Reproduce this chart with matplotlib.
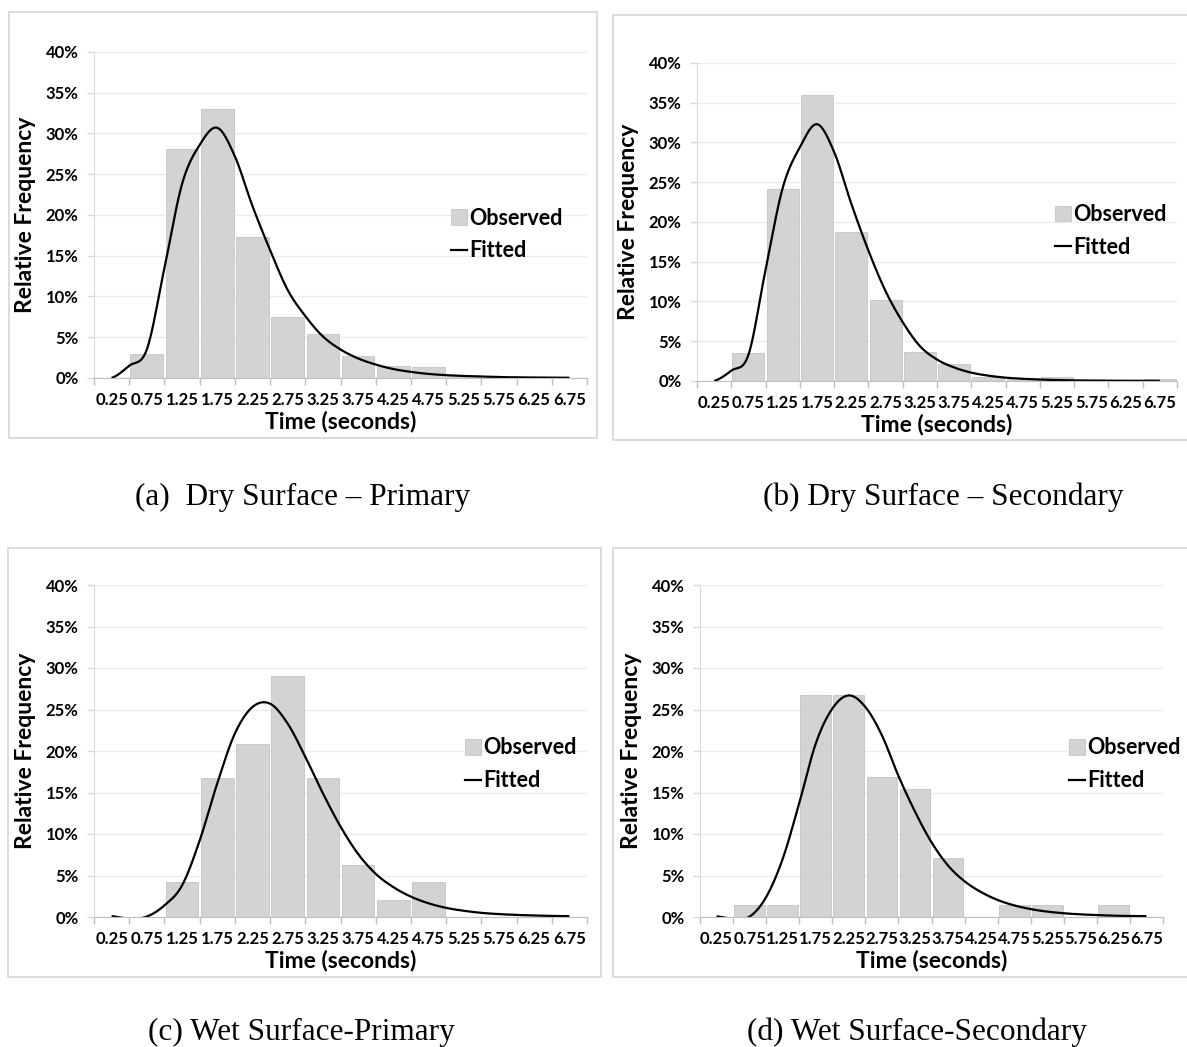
import matplotlib.pyplot as plt
import numpy as np
from matplotlib.lines import Line2D
from matplotlib.patches import Patch, Rectangle
from matplotlib.ticker import FixedLocator, PercentFormatter

plt.rcParams['font.family'] = ['Lato', 'DejaVu Sans']

# bin labels (seconds)
categories = ['0.25', '0.75', '1.25', '1.75', '2.25', '2.75', '3.25',
              '3.75', '4.25', '4.75', '5.25', '5.75', '6.25', '6.75']

# time values at which the fitted curve was read
fit_times = [0.25, 0.5, 0.75, 1.0, 1.25, 1.5, 1.75, 2.0, 2.25, 2.5, 2.75,
             3.0, 3.25, 3.5, 3.75, 4.0, 4.25, 4.5, 4.75, 5.0, 5.25, 5.5,
             5.75, 6.0, 6.25, 6.5, 6.75]

# observed relative frequency (%)
dry_primary_obs = [0, 3.0, 28.1, 33.0, 17.3, 7.5, 5.4, 2.7, 1.5, 1.3, 0.4, 0.1, 0, 0]
dry_secondary_obs = [0, 3.5, 24.1, 36.0, 18.7, 10.2, 3.7, 2.2, 0.5, 0.4, 0.5, 0, 0.05, 0.25]
wet_primary_obs = [0, 0, 4.2, 16.7, 20.8, 29.0, 16.7, 6.3, 2.1, 4.2, 0, 0, 0, 0]
wet_secondary_obs = [0, 1.5, 1.5, 26.8, 26.8, 16.9, 15.4, 7.1, 0, 1.5, 1.5, 0, 1.5, 0]

# fitted curve (%)
dry_primary_fit = [0, 1.5, 3.5, 13.5, 23.8, 28.6, 30.7, 27.2, 21.1, 15.7, 10.8,
                   7.6, 5.1, 3.5, 2.4, 1.65, 1.1, 0.75, 0.5, 0.35, 0.25, 0.18,
                   0.12, 0.08, 0.06, 0.04, 0.03]
dry_secondary_fit = [0, 1.3, 3.3, 14.0, 24.3, 29.4, 32.3, 28.8, 22.3, 16.4, 11.3,
                     7.4, 4.4, 2.7, 1.7, 1.05, 0.67, 0.42, 0.28, 0.18, 0.12, 0.08,
                     0.06, 0.04, 0.03, 0.02, 0.02]
wet_primary_fit = [0.1, -0.2, 0.05, 1.4, 3.8, 9.2, 16.1, 22.1, 25.3, 25.7, 23.3,
                   19.3, 14.9, 10.9, 7.6, 5.2, 3.6, 2.45, 1.65, 1.1, 0.75, 0.5,
                   0.35, 0.25, 0.18, 0.13, 0.1]
wet_secondary_fit = [0.08, -0.2, 0.05, 2.4, 7.0, 13.7, 20.9, 25.1, 26.7, 25.3, 21.9,
                     17.0, 12.7, 9.0, 6.2, 4.3, 3.0, 2.05, 1.4, 0.95, 0.65, 0.45,
                     0.32, 0.23, 0.16, 0.12, 0.1]

captions = ['(a)  Dry Surface \u2013 Primary', '(b) Dry Surface \u2013 Secondary',
            '(c) Wet Surface-Primary', '(d) Wet Surface-Secondary']

W, H = 1187, 1047


def smooth(xs, ys, n=16):
    # Catmull-Rom smoothing, like a spreadsheet "smoothed line"
    xs = np.asarray(xs, float)
    ys = np.asarray(ys, float)
    px = np.concatenate([[2 * xs[0] - xs[1]], xs, [2 * xs[-1] - xs[-2]]])
    py = np.concatenate([[ys[0]], ys, [ys[-1]]])
    out_x, out_y = [], []
    t = np.linspace(0, 1, n, endpoint=False)
    for i in range(1, len(px) - 2):
        for arr, out in ((px, out_x), (py, out_y)):
            p0, p1, p2, p3 = arr[i - 1], arr[i], arr[i + 1], arr[i + 2]
            out.extend(0.5 * ((2 * p1) + (-p0 + p2) * t
                              + (2 * p0 - 5 * p1 + 4 * p2 - p3) * t ** 2
                              + (-p0 + 3 * p1 - 3 * p2 + p3) * t ** 3))
    out_x.append(xs[-1])
    out_y.append(ys[-1])
    return np.array(out_x), np.array(out_y)


def px_rect(x0, y0, x1, y1):
    return [x0 / W, 1 - y1 / H, (x1 - x0) / W, (y1 - y0) / H]


def draw_panel(fig, rect, obs, fit, legend_xy):
    ax = fig.add_axes(px_rect(*rect))
    pos = np.arange(len(categories))
    ax.bar(pos, obs, width=0.93, color='#d3d3d3', edgecolor='#bdbdbd',
           linewidth=0.5, zorder=2)
    fx = [(t - 0.25) / 0.5 for t in fit_times]
    sx, sy = smooth(fx, fit)
    ax.plot(sx, sy, color='black', linewidth=1.6, zorder=3,
            solid_capstyle='butt')

    ax.set_xlim(-0.5, len(categories) - 0.5)
    ax.set_ylim(0, 40)
    ax.set_yticks(range(0, 41, 5))
    ax.yaxis.set_major_formatter(PercentFormatter(decimals=0))
    ax.set_xticks(pos)
    ax.set_xticklabels(categories)
    ax.xaxis.set_minor_locator(FixedLocator(np.arange(-0.5, len(categories), 1)))
    ax.tick_params(axis='x', which='major', length=0, pad=10,
                   labelsize=12)
    ax.tick_params(axis='x', which='minor', length=5, width=1,
                   color='#bfbfbf', direction='out')
    ax.tick_params(axis='y', length=5, width=1, color='#d9d9d9',
                   pad=6, labelsize=12)
    for lab in ax.get_xticklabels() + ax.get_yticklabels():
        lab.set_fontweight('bold')
    ax.grid(axis='y', color='#ececec', linewidth=1, zorder=0)
    ax.set_axisbelow(True)
    for side in ['top', 'right']:
        ax.spines[side].set_visible(False)
    ax.spines['left'].set_color('#d9d9d9')
    ax.spines['bottom'].set_color('#bfbfbf')
    ax.spines['bottom'].set_zorder(4)
    ax.set_xlabel('Time (seconds)', fontsize=16.5, fontweight='bold',
                  labelpad=2)
    ax.set_ylabel('Relative Frequency', fontsize=16.5, fontweight='bold',
                  labelpad=7)

    handles = [Patch(facecolor='#d3d3d3', edgecolor='#bdbdbd', linewidth=0.5),
               Line2D([0], [0], color='black', linewidth=1.6)]
    ax.legend(handles, ['Observed', 'Fitted'], loc='center left',
              bbox_to_anchor=legend_xy, frameon=False,
              prop={'weight': 'bold', 'size': 15.5},
              handlelength=0.75, handleheight=0.75, handletextpad=0.1,
              labelspacing=0.55, borderpad=0, borderaxespad=0)
    return ax


fig = plt.figure(figsize=(W / 100, H / 100), dpi=100)

panels = [
    ((94, 52, 587, 378), dry_primary_obs, dry_primary_fit, (0.724, 0.44),
     (9, 12, 597, 438), (303, 497)),
    ((697, 63, 1177, 381), dry_secondary_obs, dry_secondary_fit, (0.746, 0.472),
     (613, 15, 1200, 440), (943, 497)),
    ((94, 585, 587, 917), wet_primary_obs, wet_primary_fit, (0.753, 0.46),
     (8, 548, 601, 977), (301, 1032)),
    ((700, 585, 1163, 917), wet_secondary_obs, wet_secondary_fit, (0.797, 0.46),
     (613, 548, 1200, 977), (917, 1032)),
]

for (rect, obs, fit, leg, border, cap_xy), caption in zip(panels, captions):
    draw_panel(fig, rect, obs, fit, leg)
    bx0, by0, bx1, by1 = border
    fig.patches.append(Rectangle((bx0 / W, 1 - by1 / H), (bx1 - bx0) / W,
                                 (by1 - by0) / H, transform=fig.transFigure,
                                 fill=False, edgecolor='#d9d9d9',
                                 linewidth=1.3))
    fig.text(cap_xy[0] / W, 1 - cap_xy[1] / H, caption, ha='center',
             va='center', fontsize=22.5, family=['Liberation Serif'])

fig.savefig('out.png', dpi=100, facecolor='white')
